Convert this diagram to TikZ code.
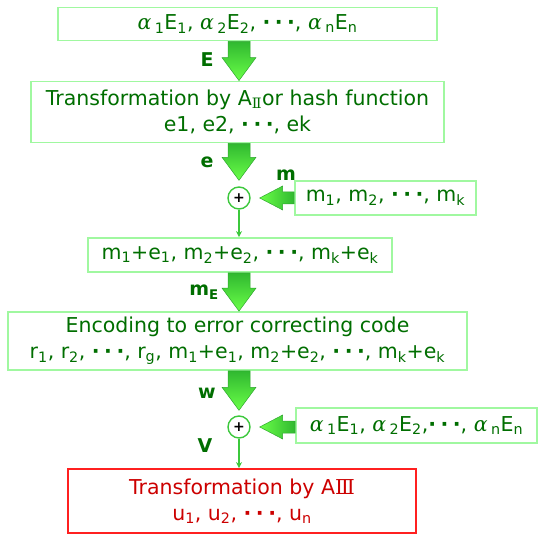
\documentclass[tikz,border=0pt]{standalone}
\usepackage{fontspec}
\setmainfont{DejaVu Sans}
\newfontfamily\greekfont{DejaVu Serif}
\usetikzlibrary{calc,arrows.meta}

\definecolor{txtgreen}{HTML}{006E00}
\definecolor{boxgreen}{HTML}{A0F8A0}
\definecolor{arrdark}{HTML}{30B830}
\definecolor{arrlight}{HTML}{6AFF48}
\definecolor{arredge}{HTML}{2EA82E}
\definecolor{ringgreen}{HTML}{3CC83C}
\definecolor{redline}{HTML}{FF2020}
\definecolor{redtxt}{HTML}{CC0000}

\newcommand\sbx[1]{\textsubscript{#1}}
\newcommand\ddd{{\bfseries ·\kern0.22em·\kern0.22em·}}
\newcommand\alf{{\greekfont\itshape α}}
\newcommand\romII{{\greekfont Ⅱ}}
\newcommand\romIII{{\greekfont Ⅲ}}

% wide downward arrow from #1 (shaft top) to #2 (tip)
\newcommand\fatdown[2]{%
  \shadedraw[top color=arrdark, bottom color=arrlight, draw=arredge, line width=0.5pt]
    let \p1=(#1), \p2=(#2) in
    (\x1-11pt,\y1) -- (\x1+11pt,\y1) -- (\x1+11pt,\y2+23pt) -- (\x1+17pt,\y2+23pt)
    -- (\x1,\y2) -- (\x1-17pt,\y2+23pt) -- (\x1-11pt,\y2+23pt) -- cycle;}
% wide leftward arrow from #1 (shaft end) to #2 (tip)
\newcommand\fatleft[2]{%
  \shadedraw[left color=arrlight, right color=arrdark, draw=arredge, line width=0.5pt]
    let \p1=(#1), \p2=(#2) in
    (\x1,\y1+6pt) -- (\x2+23pt,\y1+6pt) -- (\x2+23pt,\y1+12pt) -- (\x2,\y1)
    -- (\x2+23pt,\y1-12pt) -- (\x2+23pt,\y1-6pt) -- (\x1,\y1-6pt) -- cycle;}

\begin{document}
\begin{tikzpicture}[x=1pt, y=-1pt,
    font=\fontsize{20.5}{26}\selectfont,
    gbox/.style={draw=boxgreen, line width=1.8pt, text=txtgreen, align=center,
                 inner sep=0pt},
    rbox/.style={draw=redline, line width=1.8pt, text=redtxt, align=center,
                 inner sep=0pt},
    ring/.style={circle, draw=ringgreen, line width=1.4pt, fill=white,
                 minimum size=22pt, inner sep=0pt,
                 font=\fontsize{14}{14}\selectfont\bfseries},
    lbl/.style={text=txtgreen, font=\fontsize{19}{19}\selectfont\bfseries},
    thin/.style={draw=ringgreen, line width=1.2pt,
                 -{Stealth[length=6pt,width=6pt]}}]

  \useasboundingbox (0,0) rectangle (538,534);

  \coordinate (axis) at (239,0);

  % boxes
  \node[gbox, minimum width=379pt, minimum height=33pt] (b1) at (247.5,24)
    {\alf\,\sbx{1}E\sbx{1}, \alf\,\sbx{2}E\sbx{2}, \ddd, \alf\,\sbx{n}E\sbx{n}};
  \node[gbox, minimum width=413pt, minimum height=61pt] (b2) at (237.5,112)
    {Transformation by A\sbx{\romII}or hash function\\ e1, e2, \ddd, ek};
  \node[gbox, minimum width=181pt, minimum height=34pt] (mb) at (385.5,198)
    {m\sbx{1}, m\sbx{2}, \ddd, m\sbx{k}};
  \node[gbox, minimum width=304pt, minimum height=34pt] (b3) at (240,255)
    {m\sbx{1}+e\sbx{1}, m\sbx{2}+e\sbx{2}, \ddd, m\sbx{k}+e\sbx{k}};
  \node[gbox, minimum width=459pt, minimum height=58pt] (b4) at (237.5,341)
    {Encoding to error correcting code\\
     r\sbx{1}, r\sbx{2}, \ddd, r\sbx{g}, m\sbx{1}+e\sbx{1}, m\sbx{2}+e\sbx{2}, \ddd, m\sbx{k}+e\sbx{k}};
  \node[gbox, minimum width=241pt, minimum height=35pt] (ab) at (416.5,425.5)
    {\alf\,\sbx{1}E\sbx{1}, \alf\,\sbx{2}E\sbx{2},\ddd, \alf\,\sbx{n}E\sbx{n}};
  \node[rbox, minimum width=348pt, minimum height=64pt] (rb) at (242,501)
    {\raisebox{0pt}[0pt][0pt]{}Transformation by A\romIII\\ u\sbx{1}, u\sbx{2}, \ddd, u\sbx{n}};

  % adders
  \node[ring] (c1) at (239,198) {+};
  \node[ring] (c2) at (239,427) {+};

  % wide arrows
  \fatdown{b1.south -| axis}{b2.north -| axis}
  \fatdown{b2.south -| axis}{$(c1.north)+(0,6pt)$}
  \fatdown{b3.south -| axis}{b4.north -| axis}
  \fatdown{b4.south -| axis}{$(c2.north)+(0,5pt)$}
  \fatleft{mb.west |- c1}{$(c1.east)+(9pt,0)$}
  \fatleft{ab.west |- c2}{$(c2.east)+(9pt,0)$}

  % thin connectors
  \draw[thin] (c1.south) -- (c1.south |- b3.north);
  \draw[thin] (c2.south) -- (c2.south |- rb.north);

  % labels
  \node[lbl] (lE) at (207,60) {E};
  \node[lbl] (le) at (207,162) {e};
  \node[lbl] (lm) at (286,175) {m};
  \node[lbl] (lmE) at (204,292) {m\textsubscript{E}};
  \node[lbl] (lw) at (207,393) {w};
  \node[lbl] (lV) at (205,446) {V};
\end{tikzpicture}
\end{document}
